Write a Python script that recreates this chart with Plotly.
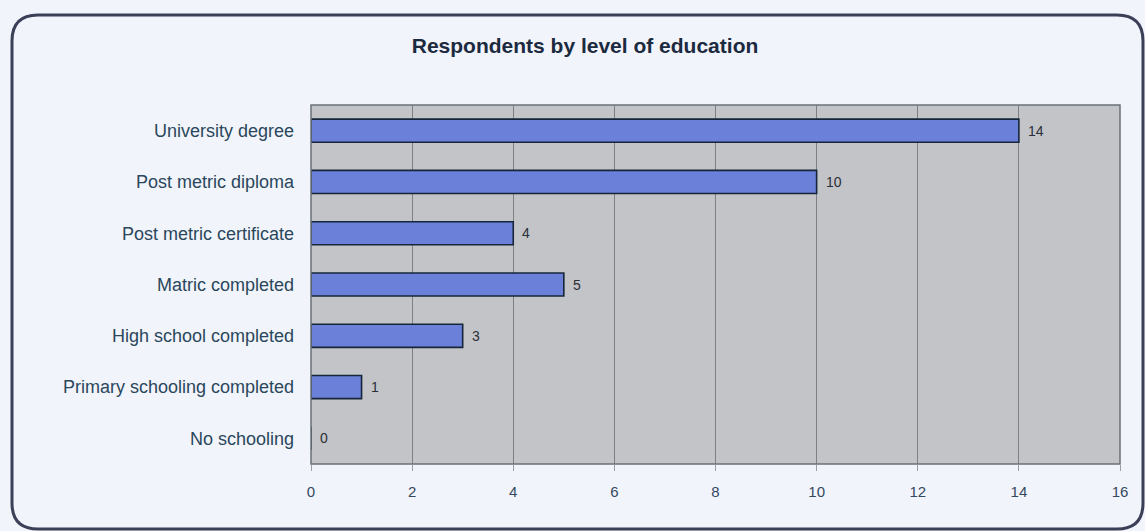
import plotly.graph_objects as go

# Respondents by highest level of education
categories = [
    "No schooling",
    "Primary schooling completed",
    "High school completed",
    "Matric completed",
    "Post metric certificate",
    "Post metric diploma",
    "University degree",
]
counts = [0, 1, 3, 5, 4, 10, 14]
x_ticks = [0, 2, 4, 6, 8, 10, 12, 14, 16]

W, H = 1145, 531
ML, MR, MT, MB = 311, 25, 105, 67
PW, PH = W - ML - MR, H - MT - MB

FONT = "Arial, Liberation Sans, sans-serif"


def px_x(x):
    return (x - ML) / PW


def px_y(y):
    return (H - MB - y) / PH


# rounded outer frame, drawn as a path in paper coordinates
fl, fr, ft, fb, r = 12, 1143, 15, 529, 26
path = (
    f"M {px_x(fl + r)},{px_y(ft)} L {px_x(fr - r)},{px_y(ft)} "
    f"Q {px_x(fr)},{px_y(ft)} {px_x(fr)},{px_y(ft + r)} "
    f"L {px_x(fr)},{px_y(fb - r)} Q {px_x(fr)},{px_y(fb)} {px_x(fr - r)},{px_y(fb)} "
    f"L {px_x(fl + r)},{px_y(fb)} Q {px_x(fl)},{px_y(fb)} {px_x(fl)},{px_y(fb - r)} "
    f"L {px_x(fl)},{px_y(ft + r)} Q {px_x(fl)},{px_y(ft)} {px_x(fl + r)},{px_y(ft)} Z"
)

label_color = "#2a475c"

fig = go.Figure(
    go.Bar(
        x=counts,
        y=categories,
        orientation="h",
        width=0.45,
        marker=dict(color="#6b80d9", line=dict(color="#16263a", width=1.6)),
    )
)

# value labels just right of each bar end
for cat, v in zip(categories, counts):
    fig.add_annotation(
        x=v,
        y=cat,
        text=str(v),
        showarrow=False,
        xanchor="left",
        xshift=7,
        font=dict(family=FONT, size=14, color="#2a2f38"),
    )

fig.update_layout(
    width=W,
    height=H,
    margin=dict(l=ML, r=MR, t=MT, b=MB),
    paper_bgcolor="#f1f4fa",
    plot_bgcolor="#c2c4c7",
    showlegend=False,
    title=dict(
        text="<b>Respondents by level of education</b>",
        x=585 / W,
        xanchor="center",
        y=1 - 46 / H,
        yanchor="middle",
        font=dict(family=FONT, size=21, color="#1c2a40"),
    ),
    shapes=[
        dict(
            type="path",
            path=path,
            xref="paper",
            yref="paper",
            line=dict(color="#3b3f58", width=3),
            layer="below",
        ),
        dict(
            type="rect",
            xref="paper",
            yref="paper",
            x0=0,
            x1=1,
            y0=0,
            y1=1,
            line=dict(color="#6a7078", width=1.5),
        ),
    ],
)

fig.update_xaxes(
    range=[0, 16],
    tickvals=x_ticks,
    ticktext=[str(t) for t in x_ticks],
    showgrid=True,
    gridcolor="#7d8085",
    gridwidth=1,
    zeroline=False,
    ticks="outside",
    ticklen=6,
    tickcolor="#9aa0a6",
    ticklabelstandoff=8,
    tickfont=dict(family=FONT, size=15, color="#34495f"),
)

fig.update_yaxes(
    categoryorder="array",
    categoryarray=categories,
    showgrid=False,
    ticks="",
    ticklabelstandoff=16,
    tickfont=dict(family=FONT, size=18, color=label_color),
)

fig.write_html("out.html")
